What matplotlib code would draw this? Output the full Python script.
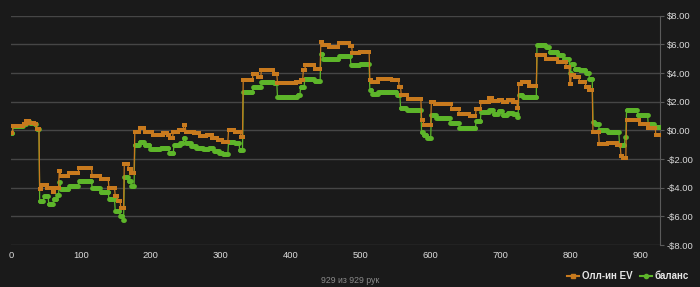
import numpy as np
import matplotlib
matplotlib.use("Agg")
import matplotlib.pyplot as plt
from matplotlib.lines import Line2D

# hands played
n_hands = 929

# all-in EV: hand where a plateau starts, and its value ($)
ev_hands = [0, 3, 18, 22, 27, 34, 37,
            41, 44, 52, 60, 63, 69, 71, 83, 97, 116, 128, 140, 149, 153, 157,
            162, 168, 172,
            177, 184, 191, 203, 218, 224, 227, 232, 240, 247, 250, 262, 270,
            280, 288, 296, 303, 311, 320, 329,
            332, 346, 353, 358, 376, 381, 408, 414, 418, 421, 434,
            443, 446, 455, 469, 484, 488, 499,
            513, 516, 525, 544, 555, 558, 567, 587, 590,
            601, 606, 630, 641, 656, 665, 672, 684, 689, 697, 703, 710, 718, 724,
            726, 730, 741,
            752, 765, 782, 794, 799, 801, 806, 813, 822, 827,
            832, 841, 853, 867, 872, 875,
            880, 890, 899, 911, 922]
ev_values = [-0.15, 0.3, 0.45, 0.65, 0.5, 0.45, 0.1,
             -4.1, -3.8, -4.0, -4.3, -4.0, -2.85, -3.15, -3.0, -2.6, -3.15, -3.4, -4.0, -4.55, -4.9, -5.4,
             -2.35, -2.7, -3.0,
             -0.1, 0.15, -0.1, -0.35, -0.15, -0.35, -0.5, -0.1, 0.0, 0.35, -0.1, -0.2, -0.4,
             -0.35, -0.5, -0.65, -0.8, 0.05, -0.1, -0.45,
             3.5, 3.95, 3.7, 4.2, 3.95, 3.3, 3.4, 3.55, 4.2, 4.55, 4.3,
             6.2, 5.95, 5.8, 6.1, 5.9, 5.4, 5.5,
             3.5, 3.35, 3.6, 3.5, 3.0, 2.45, 2.2, 0.7, 0.4,
             2.0, 1.85, 1.5, 1.15, 1.0, 1.5, 2.0, 2.25, 2.05, 2.15, 1.95, 2.1, 2.0, 1.6,
             3.25, 3.35, 3.1,
             5.25, 5.0, 4.75, 4.4, 3.25, 3.9, 3.7, 3.35, 3.0, 2.85,
             -0.1, -0.95, -0.85, -1.05, -1.75, -1.9,
             0.75, 0.7, 0.45, 0.2, -0.35]

# balance
bal_hands = [0, 3, 18, 22, 27, 34, 37,
             41, 47, 54, 61, 66, 69, 71, 83, 97, 116, 128, 140, 149, 156, 160,
             162, 168, 172,
             177, 184, 191, 199, 214, 226, 233, 242, 247, 250, 258, 265, 275,
             283, 290, 298, 303, 311, 320, 327,
             332, 346, 358, 376, 381, 410, 414, 420, 434,
             443, 446, 469, 486, 499,
             513, 516, 525, 546, 552, 557, 566, 587, 590, 595,
             601, 608, 628, 641, 665, 672, 684, 690, 697, 703, 710, 718, 724,
             726, 732,
             752, 765, 770, 782, 790, 799, 801, 806, 813, 822, 827,
             832, 835, 841, 853, 870, 878,
             880, 896, 911, 920]
bal_values = [-0.15, 0.3, 0.45, 0.65, 0.5, 0.45, 0.1,
              -4.95, -4.6, -5.1, -4.8, -4.5, -3.6, -4.1, -3.9, -3.5, -4.0, -4.3, -4.8, -5.6, -6.0, -6.25,
              -3.25, -3.5, -3.85,
              -1.05, -0.8, -1.05, -1.3, -1.2, -1.55, -1.05, -0.85, -0.55, -0.9, -1.1, -1.25, -1.3,
              -1.2, -1.4, -1.55, -1.65, -0.8, -0.9, -1.35,
              2.7, 3.0, 3.4, 3.3, 2.35, 2.45, 3.0, 3.6, 3.45,
              5.35, 4.95, 5.2, 4.55, 4.65,
              2.85, 2.55, 2.7, 2.7, 2.45, 1.55, 1.4, -0.1, -0.3, -0.55,
              1.05, 0.85, 0.5, 0.2, 0.65, 1.3, 1.4, 1.15, 1.35, 1.1, 1.25, 1.15, 0.95,
              2.45, 2.3,
              5.95, 5.8, 5.5, 5.25, 5.0, 4.0, 4.65, 4.3, 4.2, 4.0, 3.6,
              0.6, 0.45, 0.0, -0.1, -1.05, -0.45,
              1.4, 1.1, 0.45, 0.25]

y_ticks = [-8, -6, -4, -2, 0, 2, 4, 6, 8]
x_ticks = [0, 100, 200, 300, 400, 500, 600, 700, 800, 900]


def expand(starts, values):
    # each value holds until the next start hand
    edges = list(starts) + [n_hands]
    return np.repeat(values, np.diff(edges))


ev = expand(ev_hands, ev_values)
bal = expand(bal_hands, bal_values)
hands = np.arange(n_hands)

bg = "#1a1a1a"
orange = "#c87a1e"
green = "#5db52a"
grid_col = "#464646"
txt_col = "#dadada"

plt.rcParams['font.family'] = ['Liberation Sans', 'DejaVu Sans']

fig = plt.figure(figsize=(7, 2.87), dpi=100, facecolor=bg)
ax = fig.add_axes([0.0157, 0.146, 0.9273, 0.799])
ax.set_facecolor(bg)

ax.plot(hands, bal, color=green, lw=0.9, marker="o", ms=3.4, mew=0, zorder=3)
ax.plot(hands, ev, color=orange, lw=0.9, marker="s", ms=3.2, mew=0, zorder=4)

ax.set_xlim(0, n_hands - 1)
ax.set_ylim(-8, 8)
ax.set_yticks(y_ticks)
ax.set_xticks(x_ticks)
ax.yaxis.tick_right()
ax.set_yticklabels([("-$%.2f" % -v) if v < 0 else ("$%.2f" % v) for v in y_ticks])
ax.grid(axis="y", color=grid_col, lw=1)
ax.set_axisbelow(True)
for side in ["left", "top", "bottom"]:
    ax.spines[side].set_visible(False)
ax.spines["right"].set_color("#5a5a5a")
ax.tick_params(axis="y", colors="#5a5a5a", labelcolor=txt_col, labelsize=6.8, length=3, pad=2)
ax.tick_params(axis="x", labelcolor=txt_col, labelsize=6.8, length=0, pad=4)

fig.text(0.5, 0.008, "929 из 929 рук", color="#8a8a8a", fontsize=6.3, ha="center", va="bottom")

handles = [Line2D([], [], color=orange, lw=1.5, marker="s", ms=3),
           Line2D([], [], color=green, lw=1.5, marker="o", ms=3)]
leg = fig.legend(handles, ["Олл-ин EV", "баланс"], loc="lower right",
                 bbox_to_anchor=(0.997, -0.01), ncol=2, frameon=False,
                 handlelength=1.2, handletextpad=0.3, columnspacing=0.8,
                 prop={"size": 7, "weight": "bold"})
for t in leg.get_texts():
    t.set_color("#e6e6e6")

fig.savefig("out.png", dpi=100, facecolor=bg)
